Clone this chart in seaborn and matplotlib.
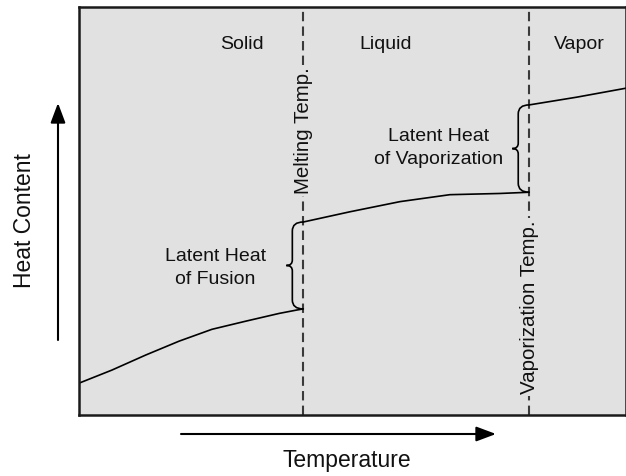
import matplotlib
matplotlib.use("Agg")
import matplotlib.pyplot as plt
from matplotlib.path import Path
from matplotlib.patches import PathPatch
import seaborn as sns
import pandas as pd

# ── data (temperature / heat content, both on a 0-100 scale) ────────────────
solid_temp = [0, 6.0, 12.2, 18.3, 24.3, 30.5, 36.6, 39.7, 41.0]
solid_heat = [7.8, 11.0, 14.7, 18.1, 21.0, 23.0, 24.9, 25.7, 26.0]
liquid_temp = [41.0, 49.5, 58.7, 67.8, 77.0, 82.3]
liquid_heat = [47.3, 49.8, 52.3, 54.0, 54.3, 54.6]
vapor_temp = [82.3, 91.0, 100]
vapor_heat = [76.0, 77.9, 80.1]

melt_temp = 41.0
vap_temp = 82.3

phase_names = ["Solid", "Liquid", "Vapor"]
phase_label_temp = [29.8, 56.0, 91.5]
phase_label_heat = 90.8

BG = "#e1e1e1"
FONT = ["Liberation Sans", "DejaVu Sans"]

sns.set_style("white")
plt.rcParams["font.family"] = FONT

fig = plt.figure(figsize=(6.26, 4.76), dpi=100)
ax = fig.add_axes([79 / 626, 61 / 476, 547 / 626, 408 / 476])
ax.set_facecolor(BG)

segments = [(solid_temp, solid_heat), (liquid_temp, liquid_heat), (vapor_temp, vapor_heat)]
for t, h in segments:
    df = pd.DataFrame({"temp": t, "heat": h})
    sns.lineplot(data=df, x="temp", y="heat", sort=False, color="black",
                 lw=1.2, ax=ax)

for xv in (melt_temp, vap_temp):
    ax.axvline(xv, color="#3a3a3a", lw=1.5, dashes=(4.5, 2.5), zorder=1)


def brace(ax, x, y_bot, y_top, w=2.0, tip=1.1, r=2.2):
    ym = (y_bot + y_top) / 2
    xb = x - w
    verts = [(x, y_top), (xb, y_top), (xb, y_top - r),
             (xb, ym + r * 0.6), (xb, ym), (xb - tip, ym),
             (xb, ym), (xb, ym - r * 0.6),
             (xb, y_bot + r), (xb, y_bot), (x, y_bot)]
    codes = [Path.MOVETO, Path.CURVE3, Path.CURVE3,
             Path.LINETO, Path.CURVE3, Path.CURVE3,
             Path.CURVE3, Path.CURVE3,
             Path.LINETO, Path.CURVE3, Path.CURVE3]
    ax.add_patch(PathPatch(Path(verts, codes), fill=False, lw=1.2,
                           edgecolor="black", zorder=3))


brace(ax, melt_temp, solid_heat[-1], liquid_heat[0])
brace(ax, vap_temp, liquid_heat[-1], vapor_heat[0])

for name, xt in zip(phase_names, phase_label_temp):
    ax.text(xt, phase_label_heat, name, ha="center", va="center", fontsize=14,
            color="#111111")

ax.text(24.9, 36.0, "Latent Heat\nof Fusion", ha="center", va="center",
        fontsize=14, linespacing=1.45, color="#111111")
ax.text(65.8, 65.4, "Latent Heat\nof Vaporization", ha="center", va="center",
        fontsize=14, linespacing=1.45, color="#111111")

box = dict(facecolor=BG, edgecolor="none", pad=1.5)
ax.text(melt_temp, 69.6, "Melting Temp.", rotation=90, ha="center",
        va="center", fontsize=14.8, color="#111111", bbox=box, zorder=4)
ax.text(vap_temp, 26.5, "Vaporization Temp.", rotation=90, ha="center",
        va="center", fontsize=14.8, color="#111111", bbox=box, zorder=4)

ax.set_xlim(0, 100)
ax.set_ylim(0, 100)
ax.set_xticks([])
ax.set_yticks([])
ax.set_xlabel("")
ax.set_ylabel("")
for s in ax.spines.values():
    s.set_color("#1a1a1a")
    s.set_linewidth(1.8)

# axis arrows and labels, placed in figure coordinates
arrow = dict(arrowstyle="-|>,head_length=1.2,head_width=0.45", color="black",
             lw=1.5, shrinkA=0, shrinkB=0)
fig.add_artist(plt.Annotation("", xy=(58 / 626, 1 - 103 / 476),
                              xytext=(58 / 626, 1 - 340 / 476),
                              xycoords="figure fraction", arrowprops=arrow))
fig.add_artist(plt.Annotation("", xy=(496 / 626, 1 - 434 / 476),
                              xytext=(181 / 626, 1 - 434 / 476),
                              xycoords="figure fraction", arrowprops=arrow))
fig.text(25 / 626, 1 - 221 / 476, "Heat Content", rotation=90, ha="center",
         va="center", fontsize=16.5, color="#111111")
fig.text(347 / 626, 1 - 461 / 476, "Temperature", ha="center", va="center",
         fontsize=16.5, color="#111111")

fig.savefig("out.png", dpi=100)
